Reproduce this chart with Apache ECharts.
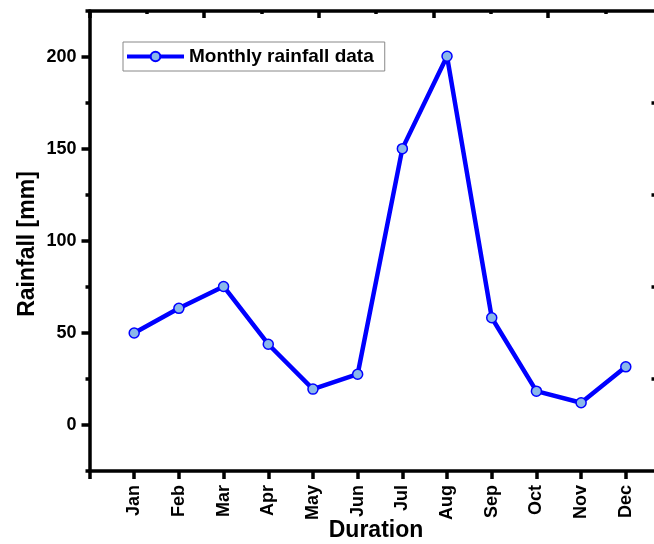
<!DOCTYPE html>
<html><head><meta charset="utf-8">
<script src="https://cdn.jsdelivr.net/npm/echarts@6/dist/echarts.min.js"></script>
<style>html,body{margin:0;padding:0;background:#fff}#c{width:654px;height:544px}</style>
</head><body><div id="c"></div>
<script>
const months = ['Jan','Feb','Mar','Apr','May','Jun','Jul','Aug','Sep','Oct','Nov','Dec'];
const rainfall = [50, 63.4, 75.3, 43.9, 19.5, 27.6, 150.2, 200.4, 58.3, 18.4, 12.1, 31.6];
const yMajorTicks = [0, 50, 100, 150, 200];
const yMinorTicks = [-25, 25, 75, 125, 175, 225];
const rightTicks = [25, 75, 125, 175];
const seriesName = 'Monthly rainfall data';
const xTitle = 'Duration';
const yTitle = 'Rainfall [mm]';

const FONT = "'Liberation Sans', Arial, sans-serif";
const lineSt = {color: '#000', width: 3.5};
const hiddenX = gi => ({type: 'value', gridIndex: gi, min: 0, max: 13, show: false});
const chart = echarts.init(document.getElementById('c'), null, {renderer: 'canvas'});
const gridBase = {left: 89.5, top: 11, height: 460, containLabel: false, outerBoundsMode: 'none'};
const option = {
  animation: false,
  backgroundColor: '#fff',
  grid: [
    Object.assign({width: 581}, gridBase),
    Object.assign({width: 581}, gridBase),
    Object.assign({width: 565}, gridBase)
  ],
  legend: {
    data: [seriesName], left: 123, top: 42, orient: 'vertical',
    padding: [5, 11, 5, 2], borderColor: '#888', borderWidth: 1,
    itemWidth: 57, itemHeight: 12,
    lineStyle: {width: 4},
    textStyle: {fontFamily: FONT, fontSize: 19, fontWeight: 'bold', color: '#000'}
  },
  xAxis: [{
    type: 'value', gridIndex: 0, min: 0, max: 13, interval: 1, position: 'bottom',
    axisLine: {show: true, onZero: false, lineStyle: lineSt},
    axisTick: {show: true, length: 8, lineStyle: lineSt},
    axisLabel: {
      formatter: v => (v >= 1 && v <= 12) ? months[v - 1] : '',
      rotate: 90, margin: 14, fontSize: 18, fontWeight: 'bold', color: '#000', fontFamily: FONT
    },
    splitLine: {show: false},
    name: xTitle, nameLocation: 'middle', nameGap: 48, nameMoveOverlap: false,
    nameTextStyle: {fontFamily: FONT, fontSize: 23, fontWeight: 'bold', color: '#000', padding: [0, 8, 0, 0]}
  }, {
    type: 'value', gridIndex: 0, min: 0, max: 5.066, interval: 1, position: 'top',
    axisLine: {show: true, onZero: false, lineStyle: lineSt},
    axisTick: {show: true, inside: true, length: 7, lineStyle: lineSt},
    minorTick: {show: true, splitNumber: 2, length: 3, lineStyle: lineSt},
    axisLabel: {show: false}, splitLine: {show: false}
  }, hiddenX(1), hiddenX(2)],
  yAxis: [{
    type: 'value', gridIndex: 0, min: -25, max: 225, position: 'left',
    axisLine: {show: true, onZero: false, lineStyle: lineSt},
    axisTick: {show: true, customValues: yMajorTicks, length: 8, lineStyle: lineSt},
    axisLabel: {customValues: yMajorTicks, margin: 13, fontSize: 18, fontWeight: 'bold', color: '#000', fontFamily: FONT},
    splitLine: {show: false},
    name: yTitle, nameLocation: 'middle', nameGap: 50, nameRotate: 90, nameMoveOverlap: false,
    nameTextStyle: {fontFamily: FONT, fontSize: 23, fontWeight: 'bold', color: '#000', padding: [0, 6, 0, 0]}
  }, {
    type: 'value', gridIndex: 1, min: -25, max: 225, position: 'left',
    axisLine: {show: false, onZero: false},
    axisTick: {show: true, customValues: yMinorTicks, length: 4, lineStyle: lineSt},
    axisLabel: {show: false}, splitLine: {show: false}
  }, {
    type: 'value', gridIndex: 2, min: -25, max: 225, position: 'right',
    axisLine: {show: false, onZero: false},
    axisTick: {show: true, inside: true, customValues: rightTicks, length: 3, lineStyle: lineSt},
    axisLabel: {show: false}, splitLine: {show: false}
  }],
  series: [{
    type: 'line', name: seriesName, xAxisIndex: 0, yAxisIndex: 0,
    data: months.map((m, i) => [i + 1, rainfall[i]]),
    symbol: 'circle', symbolSize: 10,
    lineStyle: {color: '#0000ff', width: 4.5},
    itemStyle: {color: '#8ab8ea', borderColor: '#0000ff', borderWidth: 1.5}
  }]
};
chart.setOption(option);
</script>
</body></html>
